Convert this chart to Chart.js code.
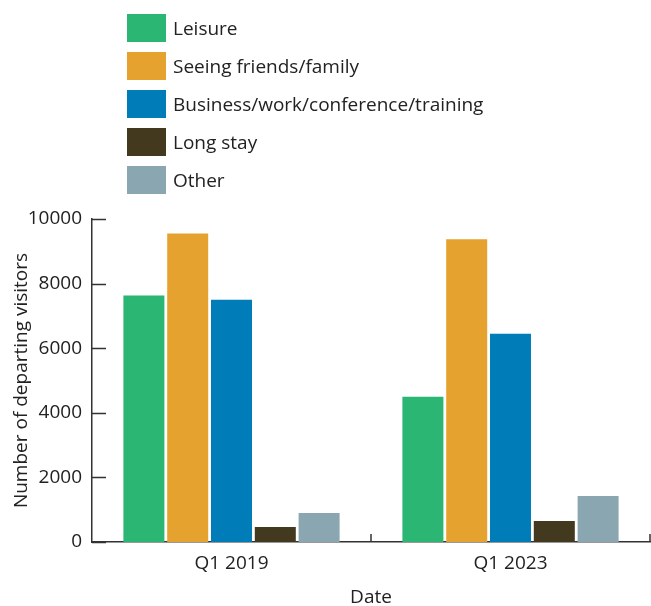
<!DOCTYPE html>
<html lang="en">
<head>
  <meta charset="UTF-8">
  <title>Departing visitors by purpose</title>
  <script src="https://cdn.jsdelivr.net/npm/chart.js"></script>
</head>
<style>
  body {
    margin: 0;
    padding: 0;
    background: #fff;
    font-family: "Open Sans", sans-serif;
  }

  .wrap {
    position: relative;
    width: 651px;
    height: 606px;
  }

  /* legend sits above the plot, one entry per row */
  .legend {
    position: absolute;
    left: 127px;
    top: 0;
  }

  .legend .item {
    position: absolute;
    left: 0;
    white-space: nowrap;
    display: flex;
    align-items: center;
    height: 28px;
  }

  .legend .swatch {
    width: 39px;
    height: 28px;
    margin-right: 7px;
  }

  .legend .label {
    font-size: 19px;
    color: #222;
  }
</style>

<body>
<div class="wrap">
  <canvas id="visitorsChart" width="651" height="606"></canvas>
  <div class="legend" id="legend"></div>
</div>

<script>
  const categories = ['Q1 2019', 'Q1 2023'];

  const leisure = [7630, 4500];
  const friendsFamily = [9550, 9370];
  const business = [7500, 6450];
  const longStay = [465, 650];
  const other = [900, 1425];

  const seriesNames = ['Leisure', 'Seeing friends/family', 'Business/work/conference/training', 'Long stay', 'Other'];
  const seriesColors = ['#2bb673', '#e5a22f', '#007db8', '#42391e', '#8aa7b1'];

  const yTicks = [0, 2000, 4000, 6000, 8000, 10000];

  const seriesValues = [leisure, friendsFamily, business, longStay, other];

  // inward tick marks like the original
  const inwardTicks = {
    id: 'inwardTicks',
    afterDraw(chart) {
      const ctx = chart.ctx;
      const x = chart.scales.x;
      const y = chart.scales.y;
      ctx.save();
      ctx.strokeStyle = '#333';
      ctx.lineWidth = 1.5;
      ctx.beginPath();
      yTicks.forEach(v => {
        const py = Math.round(y.getPixelForValue(v)) + 0.5;
        ctx.moveTo(x.left, py);
        ctx.lineTo(x.left + 14, py);
      });
      for (let i = 1; i <= categories.length; i++) {
        const px = x.getPixelForValue(i - 0.5);
        ctx.moveTo(px, y.bottom);
        ctx.lineTo(px, y.bottom - 8);
      }
      ctx.stroke();
      ctx.restore();
    }
  };

  const ctx = document.getElementById('visitorsChart').getContext('2d');
  const chart = new Chart(ctx, {
    type: 'bar',
    data: {
      labels: categories,
      datasets: seriesNames.map((name, i) => ({
        label: name,
        data: seriesValues[i],
        backgroundColor: seriesColors[i],
        borderWidth: 0,
        categoryPercentage: 0.785,
        barPercentage: 0.936
      }))
    },
    options: {
      responsive: false,
      animation: false,
      layout: {
        padding: { top: 219, right: 1, bottom: 0, left: 0 }
      },
      plugins: {
        legend: { display: false },
        tooltip: { enabled: false }
      },
      scales: {
        x: {
          grid: { display: false, drawTicks: false },
          border: { display: true, color: '#333', width: 1.5 },
          ticks: {
            padding: 10,
            color: '#222',
            font: { family: 'Open Sans', size: 19 }
          },
          title: {
            display: true,
            text: 'Date',
            color: '#222',
            font: { family: 'Open Sans', size: 19, lineHeight: 0.9 },
            padding: { top: 0, bottom: 0 }
          },
          afterFit(scale) { scale.height = 64; }
        },
        y: {
          min: 0,
          max: 10000,
          grid: { display: false, drawTicks: false },
          border: { display: true, color: '#333', width: 1.5 },
          afterBuildTicks(scale) {
            scale.ticks = yTicks.map(v => ({ value: v }));
          },
          ticks: {
            padding: 10,
            color: '#222',
            font: { family: 'Open Sans', size: 19 },
            callback: v => String(v)
          },
          title: {
            display: true,
            text: 'Number of departing visitors',
            color: '#222',
            font: { family: 'Open Sans', size: 19 },
            padding: { top: 10, bottom: 0 }
          },
          afterFit(scale) { scale.width = 92; }
        }
      }
    },
    plugins: [inwardTicks]
  });

  // html legend built from the chart's datasets
  const legend = document.getElementById('legend');
  chart.data.datasets.forEach((ds, i) => {
    const item = document.createElement('div');
    item.className = 'item';
    item.style.top = (14 + i * 38) + 'px';
    item.innerHTML = '<span class="swatch" style="background:' + ds.backgroundColor + '"></span>' +
      '<span class="label">' + ds.label + '</span>';
    legend.appendChild(item);
  });
</script>

</body>
</html>
